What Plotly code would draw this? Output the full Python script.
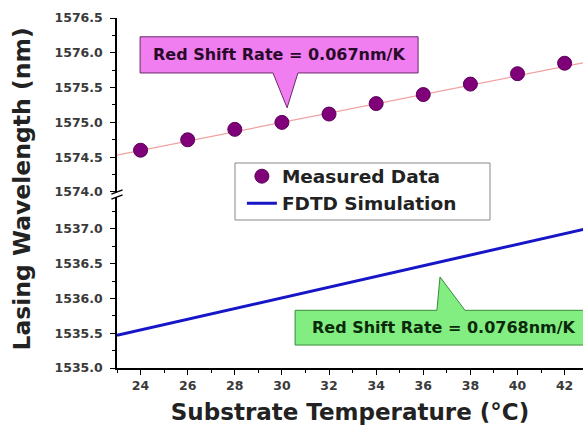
import plotly.graph_objects as go

# Measured lasing wavelength vs substrate temperature
temp_c = [24, 26, 28, 30, 32, 34, 36, 38, 40, 42]
measured_nm = [1574.60, 1574.75, 1574.90, 1575.00, 1575.12, 1575.27, 1575.40, 1575.55, 1575.70, 1575.85]

# Linear fit through the measured points (0.067 nm/K)
fit_x = [23, 43]
fit_nm = [1574.53, 1575.87]

# FDTD simulated wavelength (0.0768 nm/K)
sim_x = [23, 43]
sim_nm = [1535.47, 1537.01]

x_ticks = [24, 26, 28, 30, 32, 34, 36, 38, 40, 42]
upper_ticks = [1574.0, 1574.5, 1575.0, 1575.5, 1576.0, 1576.5]
lower_ticks = [1535.0, 1535.5, 1536.0, 1536.5, 1537.0]

FONT = "DejaVu Sans, Verdana, sans-serif"

fig = go.Figure()

fig.add_trace(go.Scatter(
    x=fit_x, y=fit_nm, mode="lines", xaxis="x2", yaxis="y2",
    line=dict(color="#f2a0a0", width=1.2), showlegend=False, hoverinfo="skip"))
fig.add_trace(go.Scatter(
    x=temp_c, y=measured_nm, mode="markers", xaxis="x2", yaxis="y2",
    name="Measured Data",
    marker=dict(color="#80007a", size=14, line=dict(color="#5a0058", width=1))))
fig.add_trace(go.Scatter(
    x=sim_x, y=sim_nm, mode="lines", xaxis="x", yaxis="y",
    name="FDTD Simulation", line=dict(color="#1616c8", width=3)))

tick_font = dict(family=FONT, size=12.5, color="#3a3a3a", weight="bold")
axis_common = dict(showline=True, linecolor="black", linewidth=1.5, showgrid=False,
                   zeroline=False, ticks="outside", ticklen=5, tickwidth=1.2,
                   tickcolor="black", tickfont=tick_font)

fig.update_layout(
    width=583, height=432,
    margin=dict(l=117, r=0, t=18, b=64),
    paper_bgcolor="white", plot_bgcolor="white",
    xaxis=dict(range=[23, 42.78], tickvals=x_ticks, anchor="y",
               minor=dict(dtick=1, tick0=23, ticks="outside", ticklen=3, tickcolor="black"),
               title=dict(text="Substrate Temperature (°C)",
                          font=dict(family=FONT, size=23, color="#222", weight="bold"),
                          standoff=12),
               automargin=False,
               **axis_common),
    xaxis2=dict(range=[23, 42.78], matches="x", anchor="y2", visible=False),
    yaxis=dict(domain=[0, 0.4886], range=[1535, 1537.46], tickvals=lower_ticks,
               tickformat=".1f", anchor="x", ticklabelstandoff=5,
               minor=dict(dtick=0.25, tick0=1535, ticks="outside", ticklen=3, tickcolor="black"),
               **axis_common),
    yaxis2=dict(domain=[0.5029, 1], range=[1574, 1576.5], tickvals=upper_ticks,
                tickformat=".1f", anchor="x2", ticklabelstandoff=5,
                minor=dict(dtick=0.25, tick0=1574, ticks="outside", ticklen=3, tickcolor="black"),
                **axis_common),
    legend=dict(x=0.268, y=0.601, xanchor="left", yanchor="top",
                bgcolor="rgba(0,0,0,0)", borderwidth=0,
                font=dict(family=FONT, size=18.5, color="#222", weight="bold"),
                tracegroupgap=0, itemwidth=30),
    showlegend=True,
)

# Legend frame
fig.add_shape(type="rect", xref="paper", yref="paper",
              x0=0.2532, x1=0.8004, y0=0.4229, y1=0.5857,
              fillcolor="white", line=dict(color="#888", width=1), layer="below")

# Shared y-axis title spanning both panels
fig.add_annotation(text="Lasing Wavelength (nm)", xref="paper", yref="paper",
                   x=-0.206, y=0.51, xanchor="center", yanchor="middle",
                   textangle=-90, showarrow=False,
                   font=dict(family=FONT, size=23.5, color="#222", weight="bold"))

# Axis break marks
for yb in (0.4886, 0.5029):
    fig.add_shape(type="line", xref="paper", yref="paper",
                  x0=-0.012, x1=0.012, y0=yb - 0.006, y1=yb + 0.006,
                  line=dict(color="black", width=1.5))

# Callout for measured slope (upper panel)
fig.add_shape(type="path", xref="x2", yref="y2",
              path="M 23.98 1576.23 L 35.78 1576.23 L 35.78 1575.71 L 30.68 1575.71 "
                   "L 30.22 1575.21 L 29.62 1575.71 L 23.98 1575.71 Z",
              fillcolor="#f07ef0", line=dict(color="#6a2a6a", width=1))
fig.add_annotation(text="Red Shift Rate = 0.067nm/K", xref="x2", yref="y2",
                   x=29.88, y=1575.97, showarrow=False,
                   font=dict(family=FONT, size=16, color="#2a0a2a", weight="bold"))

# Callout for simulated slope (lower panel)
fig.add_shape(type="path", xref="x", yref="y",
              path="M 30.56 1535.83 L 36.58 1535.83 L 36.71 1536.31 L 37.77 1535.83 "
                   "L 44 1535.83 L 44 1535.33 L 30.56 1535.33 Z",
              fillcolor="#82ee82", line=dict(color="#3a8a3a", width=1))
fig.add_annotation(text="Red Shift Rate = 0.0768nm/K", xref="x", yref="y",
                   x=36.88, y=1535.58, showarrow=False,
                   font=dict(family=FONT, size=16, color="#0a2a0a", weight="bold"))

fig.write_html("out.html")
